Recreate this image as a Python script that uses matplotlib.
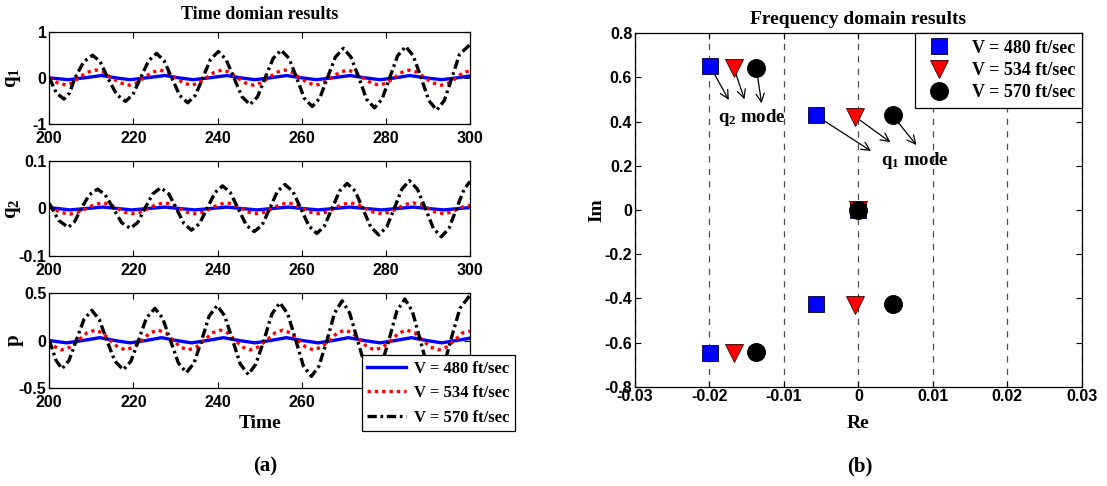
import matplotlib
matplotlib.use("Agg")
import matplotlib.pyplot as plt

plt.rcParams["font.family"] = ["Liberation Sans", "DejaVu Sans"]
plt.rcParams["font.weight"] = "bold"
plt.rcParams["mathtext.fontset"] = "custom"
plt.rcParams["mathtext.rm"] = "Liberation Serif:bold"
plt.rcParams["mathtext.it"] = "Liberation Serif:bold"
plt.rcParams["mathtext.bf"] = "Liberation Serif:bold"

SERIF = "Liberation Serif"

labels = ["V = 480 ft/sec", "V = 534 ft/sec", "V = 570 ft/sec"]

# ---------------- time domain: q1 ----------------
t_q1_480 = [200, 204.5, 208.3, 212.4, 215.8, 219.2, 223.0, 227.5, 230.8, 234.2, 238.0, 242.2, 245.5, 248.9,
            252.5, 256.4, 260.0, 263.5, 267.3, 271.5, 275.0, 278.6, 282.2, 285.7, 289.5, 293.3, 296.8, 300]
q1_480 = [0, -0.04, 0, 0.05, 0, -0.04, 0, 0.05, 0, -0.04, 0, 0.05, 0, -0.04,
          0, 0.05, 0, -0.04, 0, 0.05, 0, -0.04, 0, 0.05, 0, -0.04, 0, 0.04]

t_q1_534 = [200, 202.0, 204.1, 205.6, 207.0, 209.0, 211.1, 213.0, 214.8, 216.9, 219.0, 220.8, 222.5, 224.4,
            226.3, 228.2, 230.0, 231.9, 233.8, 235.6, 237.3, 239.2, 241.1, 242.9, 244.7, 246.6, 248.5, 250.3,
            252.1, 254.0, 256.0, 257.8, 259.6, 261.5, 263.4, 265.2, 267.0, 269.0, 270.9, 272.7, 274.5, 276.5,
            278.4, 280.2, 282.0, 283.8, 285.6, 287.5, 289.3, 291.2, 293.2, 295.0, 296.8, 298.4, 300]
q1_534 = [0, -0.11, -0.16, -0.11, 0, 0.12, 0.17, 0.12, 0, -0.11, -0.16, -0.11, 0, 0.12,
          0.17, 0.12, 0, -0.11, -0.16, -0.11, 0, 0.12, 0.17, 0.12, 0, -0.11, -0.16, -0.11,
          0, 0.12, 0.17, 0.12, 0, -0.11, -0.16, -0.11, 0, 0.12, 0.17, 0.12, 0, -0.11,
          -0.16, -0.11, 0, 0.12, 0.17, 0.12, 0, -0.11, -0.16, -0.11, 0, 0.12, 0.15]

t_q1_570 = [200, 201.7, 203.5, 204.8, 206.1, 208.2, 210.3, 212.1, 213.9, 216.0, 218.1, 219.9, 221.7, 223.6,
            225.5, 227.3, 229.1, 231.0, 232.9, 234.7, 236.5, 238.3, 240.2, 242.0, 243.9, 245.8, 247.7, 249.5,
            251.3, 253.2, 255.1, 257.0, 258.8, 260.6, 262.5, 264.3, 266.1, 268.0, 269.9, 271.7, 273.6, 275.4,
            277.3, 279.1, 280.9, 282.8, 284.7, 286.5, 288.4, 290.2, 292.1, 293.9, 295.7, 297.5, 300]
q1_570 = [0, -0.33, -0.46, -0.33, 0, 0.35, 0.49, 0.35, 0, -0.36, -0.51, -0.36, 0, 0.37,
          0.53, 0.37, 0, -0.38, -0.54, -0.38, 0, 0.40, 0.57, 0.40, 0, -0.41, -0.58, -0.41,
          0, 0.42, 0.60, 0.42, 0, -0.44, -0.62, -0.44, 0, 0.45, 0.64, 0.45, 0, -0.46,
          -0.65, -0.46, 0, 0.48, 0.68, 0.48, 0, -0.49, -0.70, -0.49, 0, 0.51, 0.72]

# ---------------- time domain: q2 ----------------
t_q2_480 = [200, 204.9, 208.8, 212.8, 216.2, 219.6, 223.5, 227.5, 231.0, 234.6, 238.4, 242.2, 245.7, 249.3,
            253.0, 256.8, 260.3, 263.9, 267.7, 271.5, 275.2, 279.0, 282.7, 286.5, 290.1, 293.7, 297.4, 300]
q2_480 = [0.002, -0.003, 0, 0.003, 0, -0.003, 0, 0.003, 0, -0.003, 0, 0.003, 0, -0.003,
          0, 0.003, 0, -0.003, 0, 0.003, 0, -0.003, 0, 0.003, 0, -0.003, 0, 0.002]

t_q2_534 = [200, 202.5, 204.9, 206.8, 208.8, 210.8, 212.8, 214.5, 216.2, 217.9, 219.6, 221.5, 223.5, 225.5,
            227.5, 229.2, 231.0, 232.8, 234.6, 236.5, 238.4, 240.3, 242.2, 243.9, 245.7, 247.5, 249.3, 251.1,
            253.0, 254.9, 256.8, 258.5, 260.3, 262.1, 263.9, 265.8, 267.7, 269.6, 271.5, 273.3, 275.2, 277.1,
            279.0, 280.8, 282.7, 284.6, 286.5, 288.3, 290.1, 291.9, 293.7, 295.5, 297.4, 298.7, 300]
q2_534 = [0.004, -0.008, -0.012, -0.008, 0, 0.0085, 0.012, 0.0085, 0, -0.008, -0.011, -0.008, 0, 0.0085,
          0.012, 0.0085, 0, -0.008, -0.011, -0.008, 0, 0.0085, 0.012, 0.0085, 0, -0.008, -0.011, -0.008,
          0, 0.0085, 0.012, 0.0085, 0, -0.008, -0.011, -0.008, 0, 0.0085, 0.012, 0.0085, 0, -0.008,
          -0.011, -0.008, 0, 0.0085, 0.012, 0.0085, 0, -0.008, -0.011, -0.008, 0, 0.005, 0.007]

t_q2_570 = [200, 202.2, 204.5, 206.0, 207.6, 209.5, 211.5, 213.3, 215.2, 217.2, 219.2, 221.0, 222.7, 224.6,
            226.5, 228.4, 230.2, 232.0, 233.8, 235.7, 237.5, 239.4, 241.2, 243.0, 244.9, 246.8, 248.7, 250.6,
            252.4, 254.2, 256.0, 257.9, 259.8, 261.7, 263.6, 265.4, 267.2, 269.0, 270.8, 272.7, 274.5, 276.4,
            278.3, 280.2, 282.0, 283.8, 285.6, 287.5, 289.4, 291.3, 293.2, 295.0, 296.8, 298.6, 300]
q2_570 = [0.011, -0.025, -0.040, -0.028, 0, 0.029, 0.041, 0.029, 0, -0.030, -0.042, -0.030, 0, 0.031,
          0.044, 0.031, 0, -0.032, -0.046, -0.032, 0, 0.034, 0.048, 0.034, 0, -0.035, -0.049, -0.035,
          0, 0.036, 0.051, 0.036, 0, -0.037, -0.053, -0.037, 0, 0.037, 0.053, 0.037, 0, -0.039,
          -0.056, -0.039, 0, 0.041, 0.059, 0.041, 0, -0.042, -0.060, -0.042, 0, 0.041, 0.057]

# ---------------- time domain: p ----------------
t_p_480 = [200, 204.1, 208.0, 212.0, 215.6, 219.2, 223.0, 226.7, 230.2, 233.8, 237.6, 241.4, 245.1, 248.9,
           252.6, 256.4, 260.1, 263.9, 267.5, 271.1, 274.8, 278.6, 282.3, 286.1, 289.7, 293.3, 296.8, 300]
p_480 = [0, -0.025, 0, 0.03, 0, -0.025, 0, 0.03, 0, -0.025, 0, 0.03, 0, -0.025,
         0, 0.03, 0, -0.025, 0, 0.03, 0, -0.025, 0, 0.03, 0, -0.025, 0, 0.025]

t_p_534 = [200, 201.5, 202.9, 204.9, 206.9, 208.9, 210.9, 212.7, 214.5, 216.3, 218.2, 220.1, 222.0, 223.9,
           225.9, 227.7, 229.5, 231.2, 233.0, 234.9, 236.8, 238.7, 240.6, 242.4, 244.2, 246.0, 247.7, 249.6,
           251.6, 253.6, 255.5, 257.4, 259.2, 261.0, 262.8, 264.7, 266.6, 268.4, 270.3, 272.1, 273.9, 275.6,
           277.4, 279.3, 281.2, 283.1, 285.0, 286.9, 288.8, 290.6, 292.5, 294.4, 296.3, 298.2, 300]
p_534 = [0, -0.07, -0.10, -0.07, 0, 0.08, 0.11, 0.08, 0, -0.07, -0.10, -0.07, 0, 0.08,
         0.11, 0.08, 0, -0.07, -0.10, -0.07, 0, 0.08, 0.11, 0.08, 0, -0.07, -0.10, -0.07,
         0, 0.08, 0.11, 0.08, 0, -0.07, -0.10, -0.07, 0, 0.08, 0.11, 0.08, 0, -0.07,
         -0.10, -0.07, 0, 0.08, 0.11, 0.08, 0, -0.07, -0.10, -0.07, 0, 0.08, 0.10]

t_p_570 = [200, 201.6, 203.0, 204.7, 206.4, 208.2, 210.1, 211.9, 213.7, 215.6, 217.6, 219.4, 221.2, 223.1,
           225.1, 226.9, 228.8, 230.7, 232.6, 234.4, 236.2, 238.0, 239.9, 241.7, 243.6, 245.4, 247.3, 249.1,
           251.0, 252.9, 254.8, 256.7, 258.6, 260.4, 262.3, 264.1, 266.0, 267.8, 269.6, 271.4, 273.3, 275.1,
           277.0, 278.8, 280.7, 282.6, 284.5, 286.3, 288.2, 290.0, 291.8, 293.6, 295.4, 297.6, 300]
p_570 = [0, -0.21, -0.30, -0.21, 0, 0.22, 0.32, 0.22, 0, -0.22, -0.31, -0.22, 0, 0.24,
         0.34, 0.24, 0, -0.24, -0.34, -0.24, 0, 0.26, 0.37, 0.26, 0, -0.25, -0.36, -0.25,
         0, 0.28, 0.40, 0.28, 0, -0.27, -0.38, -0.27, 0, 0.29, 0.42, 0.29, 0, -0.28,
         -0.40, -0.28, 0, 0.31, 0.44, 0.31, 0, -0.30, -0.42, -0.30, 0, 0.34, 0.48]

# ---------------- frequency domain (eigenvalues) ----------------
re_480 = [-0.0199, -0.0057, 0.0, -0.0057, -0.0199]
im_480 = [0.650, 0.428, 0.0, -0.424, -0.646]
re_534 = [-0.0167, -0.0004, 0.0, -0.0004, -0.0167]
im_534 = [0.642, 0.422, 0.0, -0.428, -0.648]
re_570 = [-0.0137, 0.0046, 0.0, 0.0046, -0.0137]
im_570 = [0.643, 0.428, 0.0, -0.424, -0.641]

# arrows (tail -> head) for q2 and q1 modes
arrow_tails = [(-0.0199, 0.650), (-0.0167, 0.642), (-0.0137, 0.643),
               (-0.0057, 0.428), (-0.0004, 0.422), (0.0046, 0.428)]
arrow_heads = [(-0.0174, 0.498), (-0.0153, 0.501), (-0.0130, 0.483),
               (0.0017, 0.267), (0.0043, 0.307), (0.0078, 0.294)]

# ============================================================
fig = plt.figure(figsize=(11.07, 4.86), dpi=100)

left = 0.04453
width = 0.38004
ax1 = fig.add_axes([left, 0.74486, width, 0.18992])
ax2 = fig.add_axes([left, 0.47387, width, 0.19424])
ax3 = fig.add_axes([left, 0.20226, width, 0.19424])
axf = fig.add_axes([0.57362, 0.20432, 0.40352, 0.72716])

LW = 2.4
styles = [dict(color="#0000ff", ls="-", lw=LW),
          dict(color="#ff0000", ls=(0, (1.0, 1.2)), lw=LW),
          dict(color="#000000", ls=(0, (2.8, 1.1, 0.8, 1.1)), lw=LW)]

series = [
    (ax1, [(t_q1_480, q1_480), (t_q1_534, q1_534), (t_q1_570, q1_570)], (-1, 1), [-1, 0, 1], ["-1", "0", "1"], "q$_1$"),
    (ax2, [(t_q2_480, q2_480), (t_q2_534, q2_534), (t_q2_570, q2_570)], (-0.1, 0.1), [-0.1, 0, 0.1], ["-0.1", "0", "0.1"], "q$_2$"),
    (ax3, [(t_p_480, p_480), (t_p_534, p_534), (t_p_570, p_570)], (-0.5, 0.5), [-0.5, 0, 0.5], ["-0.5", "0", "0.5"], "p"),
]

tick_fs = 11.5
lines = []
for ax, data, ylim, yt, ytl, ylab in series:
    lines = []
    for (t, y), st, lab in zip(data, styles, labels):
        ln, = ax.plot(t, y, label=lab, **st)
        lines.append(ln)
    ax.set_xlim(200, 300)
    ax.set_ylim(*ylim)
    ax.set_xticks([200, 220, 240, 260, 280, 300])
    ax.set_xticklabels(["200", "220", "240", "260", "280", "300"])
    ax.set_yticks(yt)
    ax.set_yticklabels(ytl)
    ax.tick_params(direction="in", top=True, right=True, length=4, width=0.8,
                   labelsize=tick_fs, pad=2)
    ax.tick_params(axis="x", pad=5)
    for lb in ax.get_xticklabels() + ax.get_yticklabels():
        lb.set_fontweight("bold")
    for s in ax.spines.values():
        s.set_linewidth(0.9)
    ax.set_ylabel(ylab, fontsize=15, family=SERIF, fontweight="bold")
    ax.yaxis.set_label_coords(-0.062, 0.5)

ax1.set_title("Time domian results", fontsize=13, family=SERIF, fontweight="bold", pad=9)
ax3.set_xlabel("Time", fontsize=14, family=SERIF, fontweight="bold")
ax3.xaxis.set_label_coords(0.5, -0.29)

leg1 = fig.legend(handles=lines, labels=labels, loc="upper left",
                  bbox_to_anchor=(0.3267, 0.2695), frameon=True, fancybox=False,
                  edgecolor="black", framealpha=1.0, borderpad=0.35, labelspacing=0.5,
                  handlelength=2.3, handletextpad=0.5, borderaxespad=0.0,
                  prop=dict(family=SERIF, weight="bold", size=12))
leg1.get_frame().set_linewidth(0.9)

# ---------------- frequency domain ----------------
mk = [dict(marker="s", ms=11, mfc="#0000ff", mec="#000033", mew=0.6),
      dict(marker="v", ms=13, mfc="#ff0000", mec="#330000", mew=0.6),
      dict(marker="o", ms=13, mfc="#000000", mec="#000000", mew=0.6)]
pts = [(re_480, im_480), (re_534, im_534), (re_570, im_570)]
handles = []
for (rx, iy), m, lab in zip(pts, mk, labels):
    h, = axf.plot(rx, iy, ls="none", label=lab, zorder=5, **m)
    handles.append(h)

for (tx, ty), (hx, hy) in zip(arrow_tails, arrow_heads):
    axf.annotate("", xy=(hx, hy), xytext=(tx, ty), zorder=2,
                 arrowprops=dict(arrowstyle="->,head_length=0.6,head_width=0.3",
                                 lw=0.9, color="black", shrinkA=0, shrinkB=0))

axf.text(-0.0188, 0.40, "q$_2$ mode", fontsize=13.5, family=SERIF, fontweight="bold",
         ha="left", va="baseline", zorder=6)
axf.text(0.0031, 0.204, "q$_1$ mode", fontsize=13.5, family=SERIF, fontweight="bold",
         ha="left", va="baseline", zorder=6)

axf.set_xlim(-0.03, 0.03)
axf.set_ylim(-0.8, 0.8)
xt = [-0.03, -0.02, -0.01, 0.0, 0.01, 0.02, 0.03]
axf.set_xticks(xt)
axf.set_xticklabels(["-0.03", "-0.02", "-0.01", "0", "0.01", "0.02", "0.03"])
yt = [-0.8, -0.6, -0.4, -0.2, 0.0, 0.2, 0.4, 0.6, 0.8]
axf.set_yticks(yt)
axf.set_yticklabels(["-0.8", "-0.6", "-0.4", "-0.2", "0", "0.2", "0.4", "0.6", "0.8"])
axf.tick_params(direction="in", top=True, right=True, length=4, width=0.8,
                labelsize=tick_fs, pad=2)
for lb in axf.get_xticklabels() + axf.get_yticklabels():
    lb.set_fontweight("bold")
for s in axf.spines.values():
    s.set_linewidth(0.9)
axf.xaxis.grid(True, ls=(0, (5, 5)), color="0.3", lw=0.9)
axf.set_axisbelow(True)

axf.set_title("Frequency domain results", fontsize=14, family=SERIF, fontweight="bold", pad=7)
axf.set_xlabel("Re", fontsize=14, family=SERIF, fontweight="bold")
axf.xaxis.set_label_coords(0.5, -0.08)
axf.set_ylabel("Im", fontsize=14, family=SERIF, fontweight="bold")
axf.yaxis.set_label_coords(-0.066, 0.5)

leg2 = axf.legend(handles=handles, labels=labels, loc="upper right", numpoints=1,
                  frameon=True, fancybox=False, edgecolor="black", framealpha=1.0,
                  borderaxespad=0.0, borderpad=0.35, labelspacing=0.3,
                  handletextpad=0.8, prop=dict(family=SERIF, weight="bold", size=13))
leg2.get_frame().set_linewidth(0.9)
leg2.set_zorder(10)

fig.text(265 / 1107, 1 - 466 / 486, "(a)", fontsize=15, family=SERIF, fontweight="bold",
         ha="center", va="center")
fig.text(860 / 1107, 1 - 466 / 486, "(b)", fontsize=15, family=SERIF, fontweight="bold",
         ha="center", va="center")

fig.savefig("out.png", dpi=100, facecolor="white")
